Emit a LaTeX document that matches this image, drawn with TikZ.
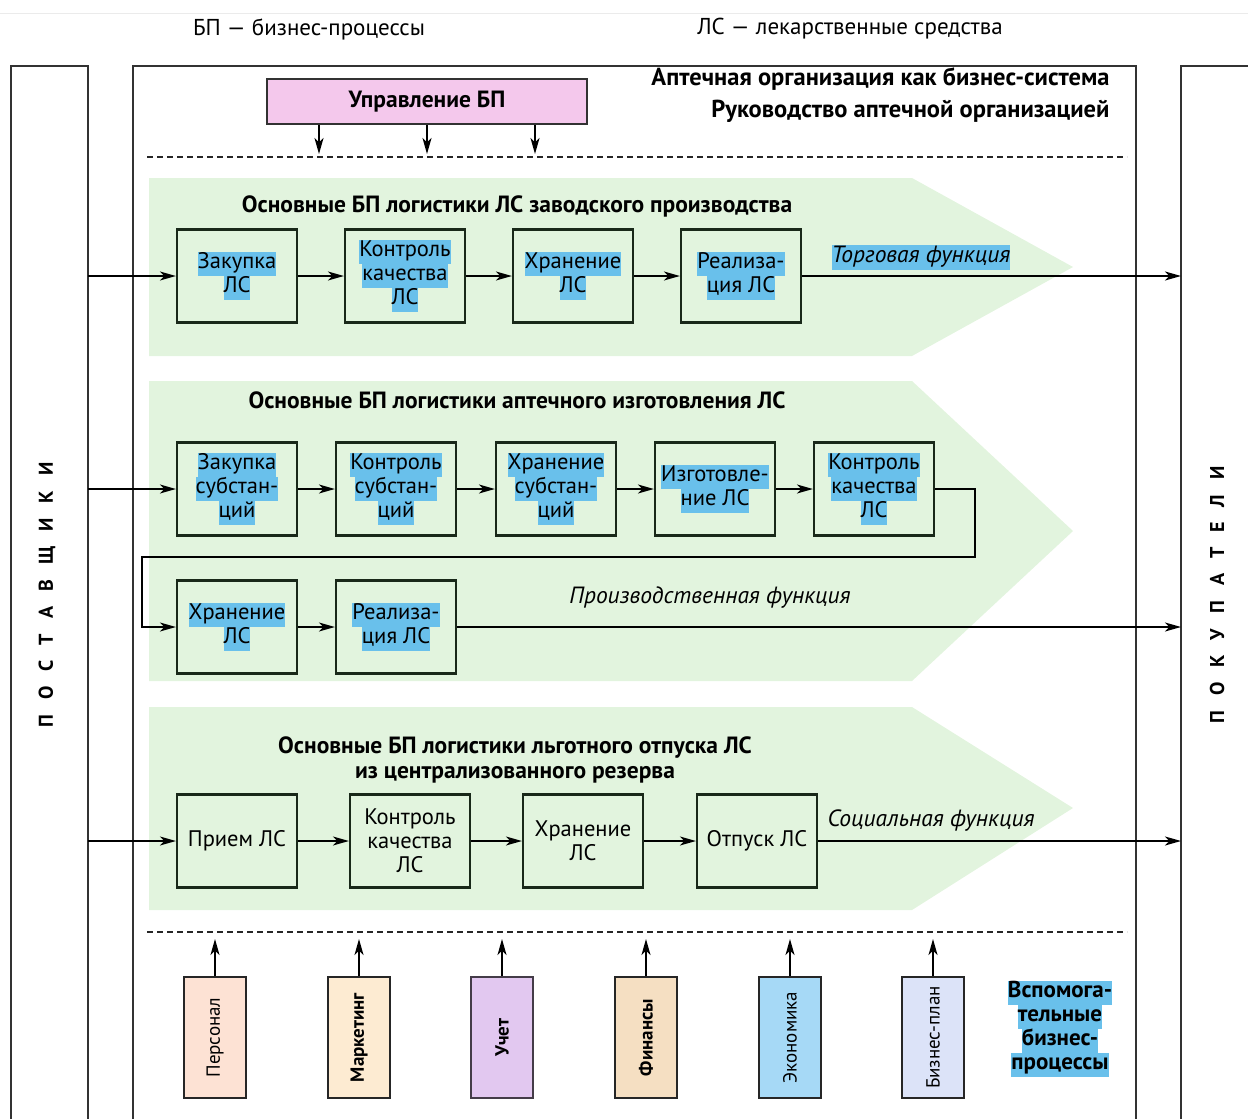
\documentclass[tikz,border=0pt]{standalone}
\usepackage{fontspec}
\setmainfont{PT Sans}
\usetikzlibrary{arrows.meta}
\definecolor{bandg}{RGB}{226,244,222}
\definecolor{hlb}{RGB}{105,192,235}
\definecolor{pinkf}{RGB}{244,200,236}
\definecolor{persf}{RGB}{253,226,212}
\definecolor{markf}{RGB}{253,235,210}
\definecolor{uchf}{RGB}{226,200,240}
\definecolor{finf}{RGB}{245,223,194}
\definecolor{ekof}{RGB}{166,217,246}
\definecolor{bizf}{RGB}{220,227,248}
\definecolor{frameC}{RGB}{50,50,50}
\definecolor{boxC}{RGB}{25,40,25}
\newcommand\hlt[1]{{\setlength{\fboxsep}{0pt}\colorbox{hlb}{\strut #1}}}
\begin{document}
\begin{tikzpicture}[x=1pt,y=-1pt,
  frame/.style={draw=frameC,line width=2pt},
  dashline/.style={draw=black!85,line width=2pt,dash pattern=on 6pt off 4pt},
  arr/.style={draw=black,line width=1.6pt,-{Stealth[length=16pt,width=9pt,inset=4.5pt]}},
  procbox/.style={draw=boxC,line width=2.2pt,minimum width=120pt,minimum height=93pt,align=center,inner sep=1pt,font=\fontsize{22.5}{24}\selectfont},
  title/.style={font=\bfseries\fontsize{23.5}{25}\selectfont,align=center},
  func/.style={font=\itshape\fontsize{23.5}{25}\selectfont},
  supbox/.style={draw=black!85,line width=2pt,rotate=90,minimum width=121pt,minimum height=62pt,font=\fontsize{19}{21}\selectfont},
  sidelbl/.style={rotate=90,font=\bfseries\fontsize{20}{22}\selectfont}
]
\useasboundingbox (0,0) rectangle (1248,1119);
\draw[black!8,line width=1pt] (0,13) -- (1248,13);

% legends
\node[font=\fontsize{23}{25}\selectfont] (leg1) at (309,29) {БП — бизнес-процессы};
\node[font=\fontsize{23}{25}\selectfont] (leg2) at (850,29) {ЛС — лекарственные средства};

% frames
\draw[frame] (11,1119) -- (11,66) -- (88,66) -- (88,1119);
\draw[frame] (133,1119) -- (133,66) -- (1136,66) -- (1136,1119);
\draw[frame] (1248,66) -- (1181,66) -- (1181,1119);

% header texts
\node[anchor=east,font=\bfseries\fontsize{24.5}{26}\selectfont] (t1) at (1113,79) {Аптечная организация как бизнес-система};
\node[anchor=east,font=\bfseries\fontsize{24.5}{26}\selectfont] (t2) at (1113,111) {Руководство аптечной организацией};

\node[draw=frameC,line width=2pt,fill=pinkf,minimum width=320pt,minimum height=45pt,font=\bfseries\fontsize{23.5}{25}\selectfont] (mg) at (427,101.5) {Управление БП};
\draw[arr] ([xshift=-108pt]mg.south) -- ++(0,29);
\draw[arr] (mg.south) -- ++(0,29);
\draw[arr] ([xshift=108pt]mg.south) -- ++(0,29);

\draw[dashline] (147,157) -- (1127,157);
\draw[dashline] (147,932) -- (1127,932);

% bands
\fill[bandg] (149,178) -- (912,178) -- (1073,267) -- (912,356) -- (149,356) -- cycle;
\fill[bandg] (149,381) -- (912,381) -- (1073,531) -- (912,681) -- (149,681) -- cycle;
\fill[bandg] (149,707) -- (912,707) -- (1073,808) -- (912,910) -- (149,910) -- cycle;

% side labels
\node[sidelbl] (sup) at (47,595) {\spaceskip=15pt П О С Т А В Щ И К И};
\node[sidelbl] (cus) at (1217,595) {\spaceskip=15pt П О К У П А Т Е Л И};

% coordinates on side columns
\coordinate (s1) at (88,276);
\coordinate (c1) at (1181,276);
\coordinate (s2) at (88,489);
\coordinate (c2) at (1181,627);
\coordinate (s3) at (88,841);
\coordinate (c3) at (1181,841);

% band 1
\node[title] (h1) at (517,206) {Основные БП логистики ЛС заводского производства};
\node[procbox] (a1) at (237,276) {\hlt{Закупка}\\\hlt{ЛС}};
\node[procbox] (a2) at (405,276) {\hlt{Контроль}\\\hlt{качества}\\\hlt{ЛС}};
\node[procbox] (a3) at (573,276) {\hlt{Хранение}\\\hlt{ЛС}};
\node[procbox] (a4) at (741,276) {\hlt{Реализа-}\\\hlt{ция ЛС}};
\node[func,anchor=west] (f1) at (828,257) {\hlt{Торговая функция}};
\draw[arr] (s1) -- (a1);
\draw[arr] (a1) -- (a2);
\draw[arr] (a2) -- (a3);
\draw[arr] (a3) -- (a4);
\draw[arr] (a4) -- (c1);

% band 2
\node[title] (h2) at (517,400) {Основные БП логистики аптечного изготовления ЛС};
\node[procbox] (b1) at (237,489) {\hlt{Закупка}\\\hlt{субстан-}\\\hlt{ций}};
\node[procbox] (b2) at (396,489) {\hlt{Контроль}\\\hlt{субстан-}\\\hlt{ций}};
\node[procbox] (b3) at (556,489) {\hlt{Хранение}\\\hlt{субстан-}\\\hlt{ций}};
\node[procbox] (b4) at (715,489) {\hlt{Изготовле-}\\\hlt{ние ЛС}};
\node[procbox] (b5) at (874,489) {\hlt{Контроль}\\\hlt{качества}\\\hlt{ЛС}};
\node[procbox] (b6) at (237,627) {\hlt{Хранение}\\\hlt{ЛС}};
\node[procbox] (b7) at (396,627) {\hlt{Реализа-}\\\hlt{ция ЛС}};
\node[func] (f2) at (710,598) {Производственная функция};
\coordinate (lp1) at (975,557);
\coordinate (lp2) at (142,557);
\draw[arr] (s2) -- (b1);
\draw[arr] (b1) -- (b2);
\draw[arr] (b2) -- (b3);
\draw[arr] (b3) -- (b4);
\draw[arr] (b4) -- (b5);
\draw[arr] (b5.east) -| (lp1) -- (lp2) |- (b6.west);
\draw[arr] (b6) -- (b7);
\draw[arr] (b7) -- (c2);

% band 3
\node[title] (h3) at (515,760) {Основные БП логистики льготного отпуска ЛС\\из централизованного резерва};
\node[procbox] (d1) at (237,841) {Прием ЛС};
\node[procbox] (d2) at (410,841) {Контроль\\качества\\ЛС};
\node[procbox] (d3) at (583,841) {Хранение\\ЛС};
\node[procbox] (d4) at (757,841) {Отпуск ЛС};
\node[func,anchor=west] (f3) at (824,821) {Социальная функция};
\draw[arr] (s3) -- (d1);
\draw[arr] (d1) -- (d2);
\draw[arr] (d2) -- (d3);
\draw[arr] (d3) -- (d4);
\draw[arr] (d4) -- (c3);

% support processes
\node[supbox,fill=persf] (p1) at (215,1037.5) {Персонал};
\node[supbox,fill=markf] (p2) at (359,1037.5) {\bfseries Маркетинг};
\node[supbox,fill=uchf,draw=uchf!30!black] (p3) at (502,1037.5) {\bfseries Учет};
\node[supbox,fill=finf] (p4) at (646,1037.5) {\bfseries Финансы};
\node[supbox,fill=ekof] (p5) at (790,1037.5) {Экономика};
\node[supbox,fill=bizf] (p6) at (933,1037.5) {Бизнес-план};
\foreach \p in {p1,p2,p3,p4,p5,p6}{\draw[arr] (\p.east) -- ++(0,-37);}
\node[font=\bfseries\fontsize{23}{24}\selectfont,align=center] (aux) at (1060,1029) {\hlt{Вспомога-}\\\hlt{тельные}\\\hlt{бизнес-}\\\hlt{процессы}};
\end{tikzpicture}
\end{document}
